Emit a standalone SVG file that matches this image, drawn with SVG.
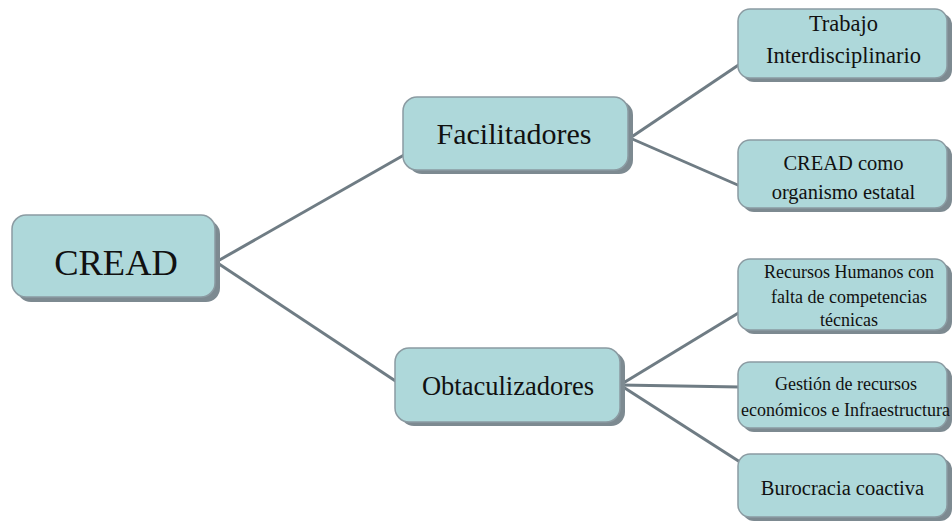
<svg xmlns="http://www.w3.org/2000/svg" width="952" height="523" viewBox="0 0 952 523">
<style>
.sh{fill:#7d8a91;}
.bx{fill:#aed8da;stroke:#8b9ba2;stroke-width:1.5;}
.ln{stroke:#6f7c84;stroke-width:3;fill:none;}
.t{fill:#111;text-anchor:middle;}
</style>
<rect width="952" height="523" fill="#fff"/>
<g id="connectors">
<line class="ln" x1="216" y1="262" x2="404" y2="155"/>
<line class="ln" x1="216" y1="262" x2="397" y2="382"/>
<line class="ln" x1="630" y1="138" x2="740" y2="64"/>
<line class="ln" x1="630" y1="138" x2="740" y2="186"/>
<line class="ln" x1="620" y1="385" x2="740" y2="312"/>
<line class="ln" x1="620" y1="385" x2="740" y2="387"/>
<line class="ln" x1="620" y1="385" x2="740" y2="462"/>
</g>
<g font-family="'Liberation Serif', 'Times New Roman', 'DejaVu Serif', serif">
<g id="cread">
<rect class="sh" x="17" y="220" width="203" height="82" rx="14"/>
<rect class="bx" x="12" y="215" width="203" height="82" rx="14"/>
<text class="t" x="116" y="275" font-size="36.5">CREAD</text>
</g>
<g id="facilitadores">
<rect class="sh" x="408" y="101" width="225" height="73" rx="14"/>
<rect class="bx" x="403" y="97" width="225" height="73" rx="14"/>
<text class="t" x="514" y="144" font-size="30">Facilitadores</text>
</g>
<g id="obtaculizadores">
<rect class="sh" x="400" y="352" width="225" height="74" rx="14"/>
<rect class="bx" x="395" y="348" width="225" height="74" rx="14"/>
<text class="t" x="508" y="395" font-size="26.5">Obtaculizadores</text>
</g>
<g id="trabajo">
<rect class="sh" x="742" y="13" width="210" height="69" rx="12"/>
<rect class="bx" x="738" y="9" width="209" height="69" rx="12"/>
<text class="t" x="843.5" y="31" font-size="22.5">Trabajo</text>
<text class="t" x="843.5" y="63" font-size="22.5">Interdisciplinario</text>
</g>
<g id="cread-como">
<rect class="sh" x="742" y="144" width="210" height="68" rx="12"/>
<rect class="bx" x="738" y="140" width="209" height="68" rx="12"/>
<text class="t" x="843.5" y="170" font-size="20.5">CREAD como</text>
<text class="t" x="843.5" y="199" font-size="20.5">organismo estatal</text>
</g>
<g id="recursos">
<rect class="sh" x="742" y="263" width="210" height="71" rx="12"/>
<rect class="bx" x="738" y="259" width="209" height="71" rx="12"/>
<text class="t" x="849" y="278" font-size="18">Recursos Humanos con</text>
<text class="t" x="849" y="303" font-size="18">falta de competencias</text>
<text class="t" x="849" y="326" font-size="18">técnicas</text>
</g>
<g id="gestion">
<rect class="sh" x="742" y="366" width="210" height="66" rx="12"/>
<rect class="bx" x="738" y="362" width="209" height="66" rx="12"/>
<text class="t" x="846" y="390" font-size="18">Gestión de recursos</text>
<text class="t" x="845.5" y="416" font-size="18">económicos e Infraestructura</text>
</g>
<g id="burocracia">
<rect class="sh" x="742" y="458" width="210" height="63" rx="12"/>
<rect class="bx" x="738" y="454" width="209" height="63" rx="12"/>
<text class="t" x="842.5" y="495" font-size="20.5">Burocracia coactiva</text>
</g>
</g>
</svg>
